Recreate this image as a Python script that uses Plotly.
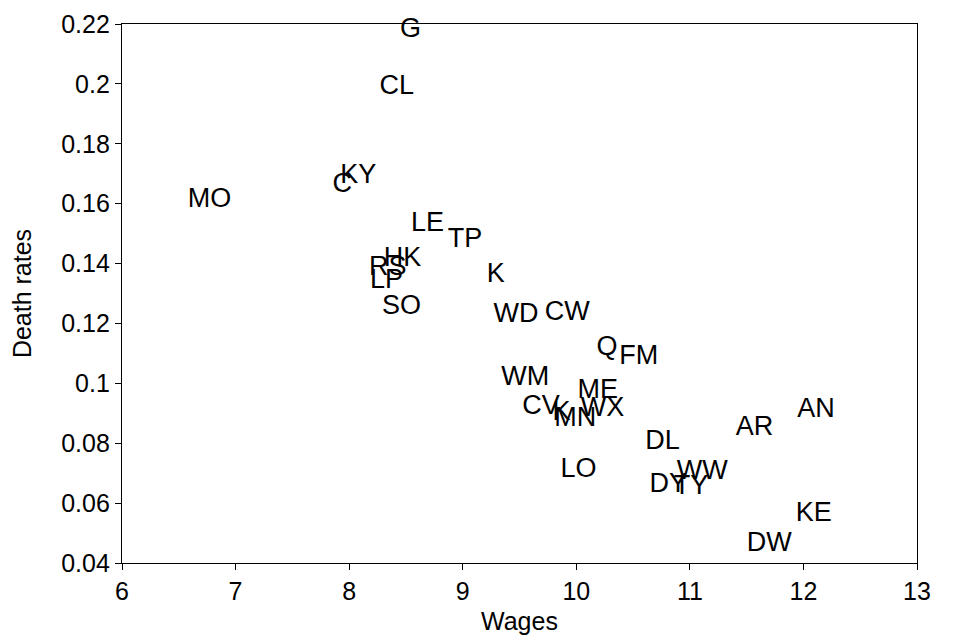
import plotly.graph_objects as go

labels = ["G", "CL", "C", "KY", "MO", "LE", "TP", "HK", "RS", "LP", "SO", "K",
          "WD", "CW", "Q", "FM", "WM", "ME", "CV", "K", "MN", "WX", "LO", "DL",
          "DY", "TY", "WW", "AR", "AN", "KE", "DW"]
wages = [8.54, 8.42, 7.94, 8.08, 6.77, 8.69, 9.02, 8.47, 8.34, 8.33, 8.46, 9.29,
         9.47, 9.92, 10.27, 10.55, 9.55, 10.19, 9.69, 9.87, 9.99, 10.23, 10.02, 10.76,
         10.81, 11.01, 11.11, 11.57, 12.11, 12.09, 11.70]
death_rates = [0.2178, 0.1988, 0.1661, 0.1693, 0.1612, 0.1532, 0.1477, 0.1415, 0.1383, 0.1341, 0.1253, 0.1362,
               0.1228, 0.1234, 0.1118, 0.1086, 0.1016, 0.0974, 0.0919, 0.0900, 0.0880, 0.0914, 0.0711, 0.0803,
               0.0661, 0.0652, 0.0704, 0.0849, 0.0910, 0.0563, 0.0461]

x_ticks = [6, 7, 8, 9, 10, 11, 12, 13]
y_ticks = [0.04, 0.06, 0.08, 0.1, 0.12, 0.14, 0.16, 0.18, 0.2, 0.22]
y_tick_text = ["0.04", "0.06", "0.08", "0.1", "0.12", "0.14", "0.16", "0.18", "0.2", "0.22"]

FONT = "Liberation Sans, Arial, sans-serif"

fig = go.Figure(go.Scatter(
    x=wages, y=death_rates, mode="text", text=labels,
    textposition="middle center", cliponaxis=False,
    textfont=dict(family=FONT, size=27, color="black"),
    hoverinfo="x+y+text",
))

axis_common = dict(
    showgrid=False, zeroline=False, showline=True, linecolor="black", linewidth=1.3,
    mirror=True, ticks="outside", ticklen=6, tickcolor="black", tickwidth=1.2,
    tickfont=dict(family=FONT, size=25, color="black"), automargin=False,
    ticklabeloverflow="allow",
)

fig.update_layout(
    width=953, height=640,
    margin=dict(l=114, r=44, t=16, b=85),
    paper_bgcolor="white", plot_bgcolor="white",
    showlegend=False,
    xaxis=dict(range=[6, 13], tickvals=x_ticks,
               title=dict(text="Wages", font=dict(family=FONT, size=25, color="black"), standoff=8),
               **axis_common),
    yaxis=dict(range=[0.04, 0.22], tickvals=y_ticks, ticktext=y_tick_text,
               title=dict(text="Death rates", font=dict(family=FONT, size=25, color="black"), standoff=26),
               **axis_common),
)

fig.write_html("out.html")
